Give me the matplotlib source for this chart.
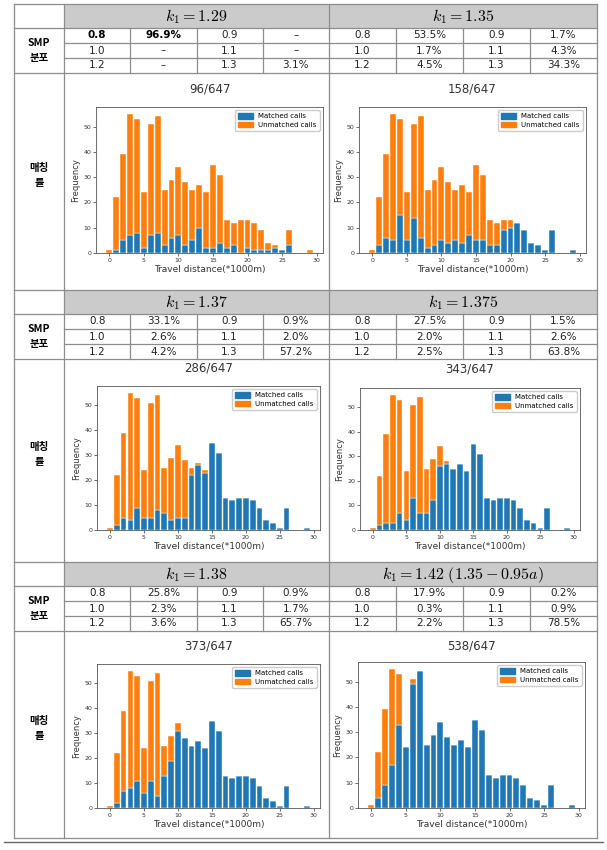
import matplotlib.pyplot as plt
from matplotlib.patches import Rectangle, Patch
from matplotlib.lines import Line2D

plt.rcParams['mathtext.fontset'] = 'cm'
plt.rcParams['font.family'] = ['DejaVu Sans']

# ---------------- data ----------------
bins = list(range(30))
total_calls = [1, 22, 39, 55, 53, 24, 51, 54, 25, 29, 34, 28, 25, 27, 24,
               35, 31, 13, 12, 13, 13, 12, 9, 4, 3, 1, 9, 0, 0, 1]

matched_129 = [0, 1, 5, 7, 8, 2, 7, 8, 3, 6, 7, 3, 5, 10, 2,
               2, 4, 2, 3, 0, 2, 1, 1, 1, 2, 1, 3, 0, 0, 0]
matched_135 = [0, 3, 6, 5, 15, 5, 14, 6, 2, 3, 5, 4, 5, 4, 7,
               5, 5, 3, 3, 9, 10, 12, 9, 4, 3, 1, 9, 0, 0, 1]
matched_137 = [0, 2, 5, 4, 9, 5, 5, 8, 7, 4, 5, 5, 22, 26, 23,
               35, 31, 13, 12, 13, 13, 12, 9, 4, 3, 1, 9, 0, 0, 1]
matched_1375 = [0, 2, 3, 3, 7, 4, 13, 7, 7, 12, 26, 27, 25, 27, 24,
                35, 31, 13, 12, 13, 13, 12, 9, 4, 3, 1, 9, 0, 0, 1]
matched_138 = [0, 2, 7, 8, 11, 6, 11, 5, 13, 19, 31, 28, 25, 27, 24,
               35, 31, 13, 12, 13, 13, 12, 9, 4, 3, 1, 9, 0, 0, 1]
matched_142 = [0, 4, 9, 17, 33, 24, 49, 54, 25, 29, 34, 28, 25, 27, 24,
               35, 31, 13, 12, 13, 13, 12, 9, 4, 3, 1, 9, 0, 0, 1]

# SMP levels, listed as they sit in the table (left pair, right pair)
smp_left = ["0.8", "1.0", "1.2"]
smp_right = ["0.9", "1.1", "1.3"]
# shares in the order 0.8, 1.0, 1.2 / 0.9, 1.1, 1.3 (None = "-")
share_129 = [96.9, None, None, None, None, 3.1]
share_135 = [53.5, 1.7, 4.5, 1.7, 4.3, 34.3]
share_137 = [33.1, 2.6, 4.2, 0.9, 2.0, 57.2]
share_1375 = [27.5, 2.0, 2.5, 1.5, 2.6, 63.8]
share_138 = [25.8, 2.3, 3.6, 0.9, 1.7, 65.7]
share_142 = [17.9, 0.3, 2.2, 0.2, 0.9, 78.5]

headers = [r"$k_1 = 1.29$", r"$k_1 = 1.35$", r"$k_1 = 1.37$",
           r"$k_1 = 1.375$", r"$k_1 = 1.38$", r"$k_1 = 1.42\ (1.35 - 0.95a)$"]
shares = [share_129, share_135, share_137, share_1375, share_138, share_142]
matched = [matched_129, matched_135, matched_137, matched_1375, matched_138, matched_142]

# ---------------- layout (pixels) ----------------
W, H = 607, 850
fig = plt.figure(figsize=(W / 100, H / 100), dpi=100)


def fx(x):
    return x / W


def fy(y):
    return 1 - y / H


line_c = '#8c8c8c'


def hline(y, x0, x1, lw=0.9, c=line_c):
    fig.add_artist(Line2D([fx(x0), fx(x1)], [fy(y), fy(y)], color=c, lw=lw))


def vline(x, y0, y1, lw=0.9, c=line_c):
    fig.add_artist(Line2D([fx(x), fx(x)], [fy(y0), fy(y1)], color=c, lw=lw))


x_out_l, x_lab, x_mid, x_out_r = 14, 64, 329, 597
block_top = [4, 290, 562]
block_bot = [290, 562, 838]
head_h = 24
row_h = 15

# histogram axes boxes: (left, top, right, bottom)
ax_boxes = [(96, 107, 323, 253), (359, 107, 586, 253),
            (97, 386, 320, 530), (360, 388, 580, 530),
            (97, 664, 320, 808), (358, 662, 585, 808)]
title_y = [89, 89, 368, 369, 646, 646]

for b in range(3):
    top, bot = block_top[b], block_bot[b]
    rows_top = top + head_h
    rows_bot = rows_top + 3 * row_h
    # header fill
    fig.add_artist(Rectangle((fx(x_lab), fy(rows_top)), fx(x_out_r) - fx(x_lab),
                             fy(top) - fy(rows_top), facecolor='#cbcbcb',
                             edgecolor='none', zorder=0))
    hline(top, x_out_l, x_out_r)
    hline(rows_top, x_out_l, x_out_r)
    hline(rows_bot, x_out_l, x_out_r)
    for r in (1, 2):
        hline(rows_top + r * row_h, x_lab, x_out_r)
    # labels in first column
    fig.text(fx((x_out_l + x_lab) / 2), fy(rows_top + 1.5 * row_h), "SMP\n분포",
             ha='center', va='center', fontsize=7.5, fontweight='bold',
             family=['Noto Sans CJK KR', 'DejaVu Sans'], linespacing=1.6)
    fig.text(fx((x_out_l + x_lab) / 2), fy((rows_bot + bot) / 2 - 6), "매칭\n률",
             ha='center', va='center', fontsize=7.5, fontweight='bold',
             family=['Noto Sans CJK KR', 'DejaVu Sans'], linespacing=1.6)
    for side in range(2):
        p = 2 * b + side
        x0 = x_lab if side == 0 else x_mid
        x1 = x_mid if side == 0 else x_out_r
        fig.text(fx((x0 + x1) / 2), fy(top + head_h / 2 + 1), headers[p],
                 ha='center', va='center', fontsize=11.5)
        cw = (x1 - x0) / 4
        for c in range(1, 4):
            vline(x0 + c * cw, rows_top, rows_bot)
        vals = shares[p]
        for r in range(3):
            left_txt = "–" if vals[r] is None else f"{vals[r]:.1f}%"
            right_txt = "–" if vals[3 + r] is None else f"{vals[3 + r]:.1f}%"
            cells = [smp_left[r], left_txt, smp_right[r], right_txt]
            for c in range(4):
                bold = (p == 0 and r == 0 and c < 2)
                fig.text(fx(x0 + (c + 0.5) * cw), fy(rows_top + (r + 0.5) * row_h),
                         cells[c], ha='center', va='center', fontsize=7.5,
                         color='#222222' if not bold else 'black',
                         fontweight='bold' if bold else 'normal')

vline(x_out_l, block_top[0], block_bot[2])
vline(x_lab, block_top[0], block_bot[2])
vline(x_mid, block_top[0], block_bot[2])
vline(x_out_r, block_top[0], block_bot[2])
hline(block_bot[2], x_out_l, x_out_r)
hline(842, 4, 603, lw=1.0, c='#666666')

# ---------------- histograms ----------------
for p in range(6):
    l, t, r, bm = ax_boxes[p]
    ax = fig.add_axes([fx(l), fy(bm), fx(r) - fx(l), fy(t) - fy(bm)])
    unmatched = [tot - m for tot, m in zip(total_calls, matched[p])]
    ax.bar(bins, matched[p], width=0.85, color='#1f77b4', edgecolor='white', linewidth=0.3)
    ax.bar(bins, unmatched, bottom=matched[p], width=0.85, color='#ff7f0e',
           edgecolor='white', linewidth=0.3)
    ax.set_xticks([0, 5, 10, 15, 20, 25, 30])
    ax.set_yticks([0, 10, 20, 30, 40, 50])
    ax.tick_params(labelsize=4.5, length=2, width=0.5, pad=1.5, colors='#333333')
    for s in ax.spines.values():
        s.set_linewidth(0.6)
        s.set_color('#555555')
    ax.set_xlabel("Travel distance(*1000m)", fontsize=6.5, labelpad=1.5, color='#333333')
    ax.set_ylabel("Frequency", fontsize=6, labelpad=2, color='#333333')
    ax.legend(handles=[Patch(color='#1f77b4', label='Matched calls'),
                       Patch(color='#ff7f0e', label='Unmatched calls')],
              loc='upper right', fontsize=5, handlelength=2.2, handleheight=0.8,
              borderpad=0.4, labelspacing=0.35, framealpha=1)
    fig.text(fx((l + r) / 2), fy(title_y[p]), f"{sum(matched[p])}/{sum(total_calls)}",
             ha='center', va='center', fontsize=8.5, color='#333333')

fig.savefig('out.png', dpi=100)
